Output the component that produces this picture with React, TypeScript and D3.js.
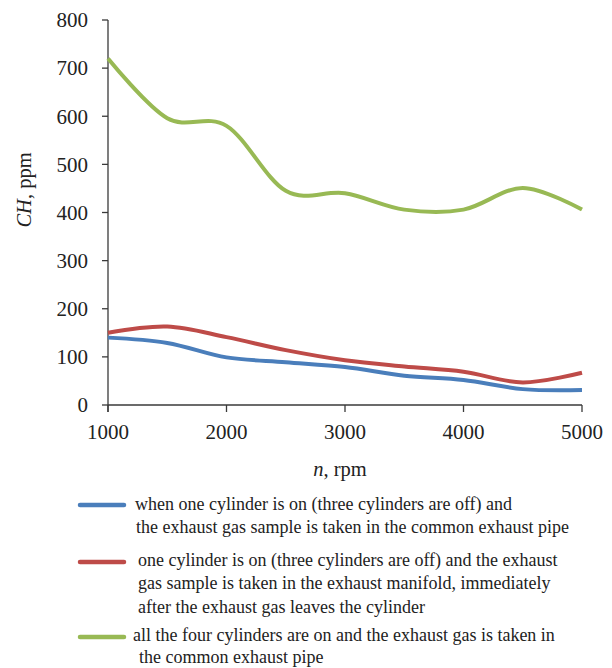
import React from "react";
import * as d3 from "d3";

const rpm = [1000, 1500, 2000, 2500, 3000, 3500, 4000, 4500, 5000];
const blueValues = [140, 129, 99, 89, 79, 61, 52, 33, 31];
const redValues = [150, 163, 141, 114, 93, 80, 69, 47, 67];
const greenValues = [720, 596, 580, 445, 440, 406, 406, 451, 406];
const yTicks = [0, 100, 200, 300, 400, 500, 600, 700, 800];
const xTicks = [1000, 2000, 3000, 4000, 5000];
const legendLines = [
  ["when one cylinder is on (three cylinders are off) and", "the exhaust gas sample is taken in the common exhaust pipe"],
  ["one cylinder is on (three cylinders are off) and the exhaust", "gas sample is taken in the exhaust manifold, immediately", "after the exhaust gas leaves the cylinder"],
  ["all the four cylinders are on and the exhaust gas is taken in", "the common exhaust pipe"],
];

const colors = ["#4A7EBB", "#BE4B48", "#98B954"];
const FONT = "'Liberation Serif', 'Times New Roman', serif";

export default function App() {
  const x = d3.scaleLinear().domain([1000, 5000]).range([108, 582]);
  const y = d3.scaleLinear().domain([0, 800]).range([405, 20]);
  const line = d3
    .line<[number, number]>()
    .x((d) => x(d[0]))
    .y((d) => y(d[1]))
    .curve(d3.curveCardinal.tension(0));
  const series = [blueValues, redValues, greenValues];
  const axisColor = "#3a3a3a";
  const legendMarkY = [505, 562, 637];
  const legendBase = [
    [510, 533],
    [566, 589, 613],
    [641, 663],
  ];
  const legendTextX = [
    [135, 136],
    [138, 138, 138],
    [133, 139],
  ];
  return (
    <svg width={612} height={668} style={{ position: "absolute", left: 0, top: 0, background: "#fff" }} fontFamily={FONT}>
      {/* y axis */}
      <line x1={x(1000)} x2={x(1000)} y1={y(800)} y2={y(0) + 7} stroke={axisColor} strokeWidth={1.3} />
      {yTicks.map((t) => (
        <g key={t}>
          <line x1={x(1000) - 6} x2={x(1000)} y1={y(t)} y2={y(t)} stroke={axisColor} strokeWidth={1.3} />
          <text x={x(1000) - 20} y={y(t)} dy="0.35em" textAnchor="end" fontSize={21} fill="#222">
            {t}
          </text>
        </g>
      ))}
      {/* x axis */}
      <line x1={x(1000)} x2={x(5000)} y1={y(0)} y2={y(0)} stroke={axisColor} strokeWidth={1.3} />
      {xTicks.map((t) => (
        <g key={t}>
          <line x1={x(t)} x2={x(t)} y1={y(0)} y2={y(0) + 7} stroke={axisColor} strokeWidth={1.3} />
          <text x={x(t)} y={y(0) + 34} textAnchor="middle" fontSize={21} fill="#222">
            {t}
          </text>
        </g>
      ))}
      {series.map((vals, i) => (
        <path
          key={i}
          d={line(rpm.map((r, j) => [r, vals[j]] as [number, number])) || ""}
          fill="none"
          stroke={colors[i]}
          strokeWidth={4}
          strokeLinecap="butt"
        />
      ))}
      {/* axis titles */}
      <text transform="translate(31,190) rotate(-90)" textAnchor="middle" fontSize={20.5} fill="#222">
        <tspan fontStyle="italic">CH</tspan>, ppm
      </text>
      <text x={340} y={476} textAnchor="middle" fontSize={20.5} fill="#222">
        <tspan fontStyle="italic">n</tspan>, rpm
      </text>
      {/* legend */}
      {legendLines.map((lines, i) => (
        <g key={i}>
          <line x1={80} x2={124} y1={legendMarkY[i]} y2={legendMarkY[i]} stroke={colors[i]} strokeWidth={4.5} strokeLinecap="round" />
          {lines.map((s, k) => (
            <text key={k} x={legendTextX[i][k]} y={legendBase[i][k]} fontSize={18} fill="#222">
              {s}
            </text>
          ))}
        </g>
      ))}
    </svg>
  );
}
